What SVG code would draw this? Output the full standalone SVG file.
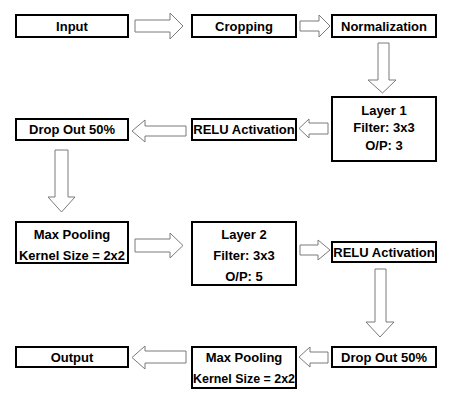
<svg xmlns="http://www.w3.org/2000/svg" width="465" height="404" viewBox="0 0 465 404">
<style>
.box{fill:#fff;stroke:#000;stroke-width:2}
.arr{fill:#fff;stroke:#7a7a7a;stroke-width:1;stroke-linejoin:miter}
text{font-family:"Liberation Sans",Arial,sans-serif;font-weight:bold;font-size:13px;text-anchor:middle;fill:#000}
</style>
<rect width="465" height="404" fill="#fff"/>
<g id="connectors">
<path class="arr" d="M135,20 H170 V13 L183,26 L170,39 V32 H135 Z"/>
<path class="arr" d="M300,21 H319 V15 L330,26 L319,37 V31 H300 Z"/>
<path class="arr" d="M378,43 H389 V80 H396 L382.5,93 L368,80 H378 Z"/>
<path class="arr" d="M328,123 H309 V119 L299,128.5 L309,138 V134 H328 Z"/>
<path class="arr" d="M186,126 H145 V120 L132,131 L145,142 V136 H186 Z"/>
<path class="arr" d="M55,150 H68 V197 H75 L61.5,212 L48,197 H55 Z"/>
<path class="arr" d="M135,239 H170 V233 L183,245.5 L170,258 V252 H135 Z"/>
<path class="arr" d="M300,245 H318 V240 L330,250 L318,260 V255 H300 Z"/>
<path class="arr" d="M375,269 H386 V322 H394 L380,337 L366,322 H375 Z"/>
<path class="arr" d="M328,352 H310 V347 L299,357 L310,367 V363 H328 Z"/>
<path class="arr" d="M186,351 H145 V346 L132,357.5 L145,369 V363 H186 Z"/>
</g>
<g id="input"><rect class="box" x="16" y="15" width="112" height="22"/><text x="72" y="30.5">Input</text></g>
<g id="cropping"><rect class="box" x="192" y="15" width="104" height="22"/><text x="244" y="30.5">Cropping</text></g>
<g id="normalization"><rect class="box" x="332" y="15" width="104" height="22"/><text x="384" y="30.5">Normalization</text></g>
<g id="layer1"><rect class="box" x="332" y="97" width="104" height="64"/><text x="384" y="114.5">Layer 1</text><text x="384" y="132">Filter: 3x3</text><text x="384" y="150">O/P: 3</text></g>
<g id="relu1"><rect class="box" x="192" y="119" width="104" height="21"/><text x="244" y="134">RELU Activation</text></g>
<g id="dropout1"><rect class="box" x="16" y="119" width="112" height="21"/><text x="72" y="134">Drop Out 50%</text></g>
<g id="maxpool1"><rect class="box" x="16" y="222" width="112" height="41"/><text x="72" y="238.5">Max Pooling</text><text x="72" y="259.5" textLength="106" lengthAdjust="spacingAndGlyphs">Kernel Size = 2x2</text></g>
<g id="layer2"><rect class="box" x="192" y="222" width="104" height="63"/><text x="244" y="238.5">Layer 2</text><text x="244" y="259.5">Filter: 3x3</text><text x="244" y="280.5">O/P: 5</text></g>
<g id="relu2"><rect class="box" x="332" y="242" width="104" height="20"/><text x="384" y="256.5">RELU Activation</text></g>
<g id="dropout2"><rect class="box" x="332" y="347" width="104" height="20"/><text x="384" y="361.5">Drop Out 50%</text></g>
<g id="maxpool2"><rect class="box" x="192" y="347" width="104" height="41"/><text x="244" y="361.5">Max Pooling</text><text x="244" y="382.5" textLength="102" lengthAdjust="spacingAndGlyphs">Kernel Size = 2x2</text></g>
<g id="output"><rect class="box" x="16" y="347" width="112" height="20"/><text x="72" y="361.5">Output</text></g>
</svg>
